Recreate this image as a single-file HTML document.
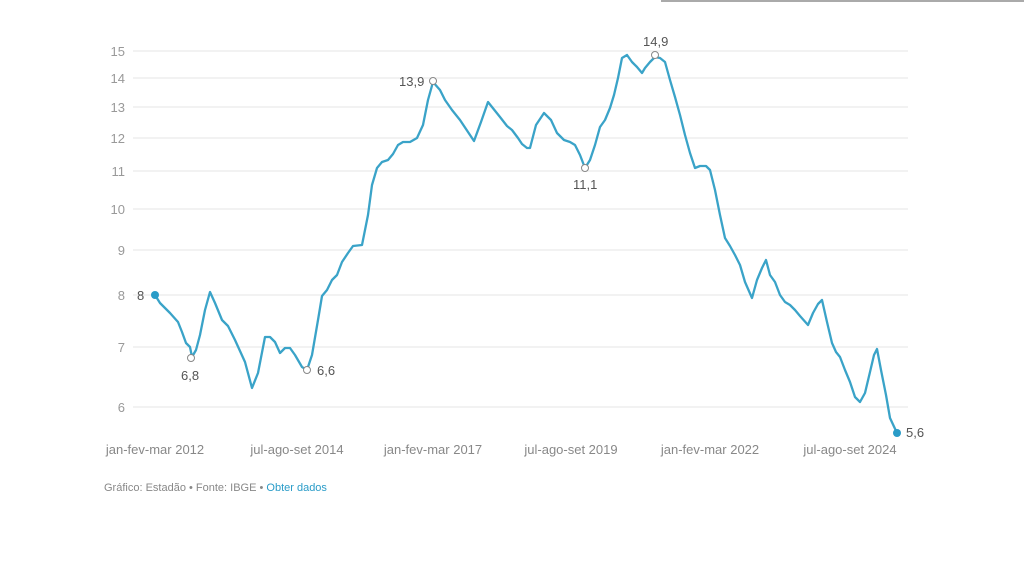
<!DOCTYPE html>
<html><head><meta charset="utf-8"><style>
html,body{margin:0;padding:0;background:#fff;}
svg{display:block;font-family:"Liberation Sans",sans-serif;}
</style></head><body>
<svg width="1024" height="576" viewBox="0 0 1024 576">
<rect width="1024" height="576" fill="#fff"/>
<line x1="661" y1="1" x2="1024" y2="1" stroke="#aaa" stroke-width="2"/>
<g stroke="#ebebeb" stroke-width="1.2">
<line x1="133" y1="51" x2="908" y2="51"/><line x1="133" y1="78" x2="908" y2="78"/>
<line x1="133" y1="107" x2="908" y2="107"/><line x1="133" y1="138" x2="908" y2="138"/>
<line x1="133" y1="171" x2="908" y2="171"/><line x1="133" y1="209" x2="908" y2="209"/>
<line x1="133" y1="250" x2="908" y2="250"/><line x1="133" y1="295" x2="908" y2="295"/>
<line x1="133" y1="347" x2="908" y2="347"/><line x1="133" y1="407" x2="908" y2="407"/>
</g>
<g fill="#999" font-size="13" text-anchor="end">
<text x="125" y="56">15</text><text x="125" y="83">14</text><text x="125" y="112">13</text>
<text x="125" y="143">12</text><text x="125" y="176">11</text><text x="125" y="214">10</text>
<text x="125" y="255">9</text><text x="125" y="300">8</text><text x="125" y="352">7</text>
<text x="125" y="412">6</text>
</g>
<g fill="#888" font-size="13" text-anchor="middle">
<text x="155" y="454">jan-fev-mar 2012</text><text x="297" y="454">jul-ago-set 2014</text>
<text x="433" y="454">jan-fev-mar 2017</text><text x="571" y="454">jul-ago-set 2019</text>
<text x="710" y="454">jan-fev-mar 2022</text><text x="850" y="454">jul-ago-set 2024</text>
</g>
<polyline fill="none" stroke="#3aa3c8" stroke-width="2.3" stroke-linejoin="round" points="155,295 160,303 170,313 178,322 182,332 186,343 190,347 192,357 196,350 200,335 205,310 210,292 215,303 222,320 228,326 235,340 245,362 252,388 258,373 265,337 270,337 275,342 280,353 285,348 290,348 295,355 302,367 307,370 312,355 318,320 322,296 327,290 332,280 337,275 342,262 348,253 353,246 362,245 368,215 372,185 377,168 382,162 388,160 393,154 398,145 403,142 410,142 417,138 423,125 428,100 433,82 440,90 445,100 452,110 460,120 468,132 474,141 481,122 488,102 500,117 507,126 512,130 518,138 522,144 527,148 530,148 536,125 544,113 551,120 557,133 564,140 570,142 575,145 580,155 585,168 590,160 595,145 600,127 605,120 610,108 614,95 618,78 622,58 627,55 632,62 637,67 642,73 645,68 650,62 655,57 660,58 665,62 670,80 675,97 680,115 685,135 690,153 695,168 700,166 706,166 710,170 715,190 720,215 725,238 730,246 735,255 740,265 745,282 752,298 757,280 762,268 766,260 770,275 775,282 780,295 785,302 790,305 795,310 800,316 808,325 813,313 818,304 822,300 827,322 832,343 836,352 840,357 845,370 850,382 855,397 860,402 865,393 870,372 874,355 877,349 881,370 886,395 890,418 897,433"/>
<circle cx="155" cy="295" r="4" fill="#2a9cc8"/>
<circle cx="897" cy="433" r="4" fill="#2a9cc8"/>
<g fill="#fff" stroke="#888" stroke-width="1">
<circle cx="191" cy="358" r="3.5"/><circle cx="307" cy="370" r="3.5"/>
<circle cx="433" cy="81" r="3.5"/><circle cx="585" cy="168" r="3.5"/>
<circle cx="655" cy="55" r="3.5"/>
</g>
<g fill="#555" font-size="13">
<text x="137" y="300">8</text>
<text x="181" y="380">6,8</text>
<text x="317" y="375">6,6</text>
<text x="399" y="86">13,9</text>
<text x="573" y="189">11,1</text>
<text x="643" y="46">14,9</text>
<text x="906" y="437">5,6</text>
</g>
<text x="104" y="491" font-size="11" fill="#888">Gráfico: Estadão • Fonte: IBGE • <tspan fill="#2a9cc8">Obter dados</tspan></text>
</svg>
</body></html>
